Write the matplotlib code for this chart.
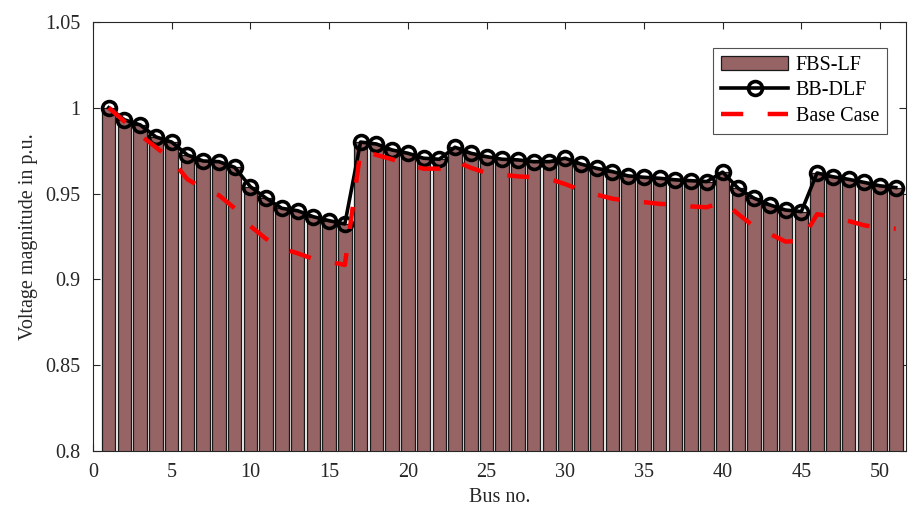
import numpy as np
import matplotlib
matplotlib.use("Agg")
import matplotlib.pyplot as plt

OUT_FILE = "out.png"

# bus numbers 1..51
buses = list(range(1, 52))

# BB-DLF voltage magnitudes (p.u.)
bb_dlf = [1.000, 0.993, 0.990, 0.983, 0.980, 0.9725, 0.969, 0.9686, 0.9653, 0.954,
          0.9473, 0.9414, 0.940, 0.9365, 0.9342, 0.9323, 0.980, 0.9789, 0.9754, 0.9735,
          0.9706, 0.970, 0.977, 0.9735, 0.9715, 0.970, 0.9696, 0.9686, 0.9686, 0.9706,
          0.9672, 0.9647, 0.9628, 0.9603, 0.9595, 0.9589, 0.958, 0.9575, 0.957, 0.9625,
          0.953, 0.9473, 0.9434, 0.9404, 0.9395, 0.962, 0.9598, 0.9583, 0.9565, 0.9545,
          0.9535]

# FBS-LF bars (practically identical to BB-DLF)
fbs_lf = [1.000, 0.993, 0.990, 0.983, 0.980, 0.9725, 0.969, 0.9686, 0.9653, 0.954,
          0.9473, 0.9414, 0.940, 0.9365, 0.9342, 0.9323, 0.980, 0.9789, 0.9754, 0.9735,
          0.9706, 0.970, 0.977, 0.9735, 0.9715, 0.970, 0.9696, 0.9686, 0.9686, 0.9706,
          0.9672, 0.9647, 0.9628, 0.9603, 0.9595, 0.9589, 0.958, 0.9575, 0.957, 0.9625,
          0.953, 0.9473, 0.9434, 0.9404, 0.9395, 0.962, 0.9598, 0.9583, 0.9565, 0.9545,
          0.9535]

# Base case voltage profile
base_case = [1.000, 0.992, 0.984, 0.977, 0.9696, 0.9583, 0.953, 0.949, 0.9414, 0.931,
             0.9236, 0.918, 0.9152, 0.9119, 0.9103, 0.9084, 0.9754, 0.9725, 0.970, 0.967,
             0.9645, 0.9645, 0.969, 0.965, 0.962, 0.961, 0.960, 0.9595, 0.9585, 0.9555,
             0.952, 0.9494, 0.947, 0.9458, 0.945, 0.944, 0.9435, 0.9425, 0.942, 0.9453,
             0.938, 0.9307, 0.9265, 0.922, 0.9225, 0.938, 0.9363, 0.934, 0.9315, 0.930,
             0.9295]

y_ticks = [0.8, 0.85, 0.9, 0.95, 1.0, 1.05]
y_tick_labels = ["0.8", "0.85", "0.9", "0.95", "1", "1.05"]
x_ticks = [0, 5, 10, 15, 20, 25, 30, 35, 40, 45, 50]

BAR_COLOR = "#966464"
AX_COLOR = "#262626"

plt.rcParams["font.family"] = ["Liberation Serif", "DejaVu Serif"]

fig = plt.figure(figsize=(9.08, 5.13), dpi=100)
ax = fig.add_axes([0.1024, 0.1209, 0.8954, 0.8363])

bars = ax.bar(buses, fbs_lf, width=0.86, color=BAR_COLOR, edgecolor="#1a1a1a",
              linewidth=0.9, label="FBS-LF", zorder=2)
line_bb, = ax.plot(buses, bb_dlf, color="black", linewidth=2.6, marker="o",
                   markersize=10, markerfacecolor="none", markeredgewidth=2.6,
                   markeredgecolor="black", label="BB-DLF", zorder=3)
line_base, = ax.plot(buses, base_case, color="red", linewidth=3.2, dashes=(5, 5.5),
                     label="Base Case", zorder=4)

ax.set_xlim(0, 51.65)
ax.set_ylim(0.8, 1.05)
ax.set_xticks(x_ticks)
ax.set_yticks(y_ticks)
ax.set_yticklabels(y_tick_labels)
ax.tick_params(direction="in", top=True, right=True, labelsize=14.5, length=5,
               width=0.8, colors=AX_COLOR, labelcolor=AX_COLOR)
ax.tick_params(axis="x", pad=9)
ax.tick_params(axis="y", pad=9)
for s in ax.spines.values():
    s.set_linewidth(0.8)
    s.set_color(AX_COLOR)

ax.set_xlabel("Bus no.", fontsize=14.5, color=AX_COLOR, labelpad=4)
ax.set_ylabel("Voltage magnitude in p.u.", fontsize=14.5, color=AX_COLOR, labelpad=5)

leg = ax.legend([bars, line_bb, line_base], ["FBS-LF", "BB-DLF", "Base Case"],
                loc="upper right", bbox_to_anchor=(0.977, 0.939), fontsize=14.5,
                frameon=True, fancybox=False, edgecolor=AX_COLOR, borderaxespad=0,
                handlelength=3.3, handletextpad=0.4, borderpad=0.4, labelspacing=0.3)
leg.get_frame().set_linewidth(0.8)

fig.savefig(OUT_FILE, dpi=100)
